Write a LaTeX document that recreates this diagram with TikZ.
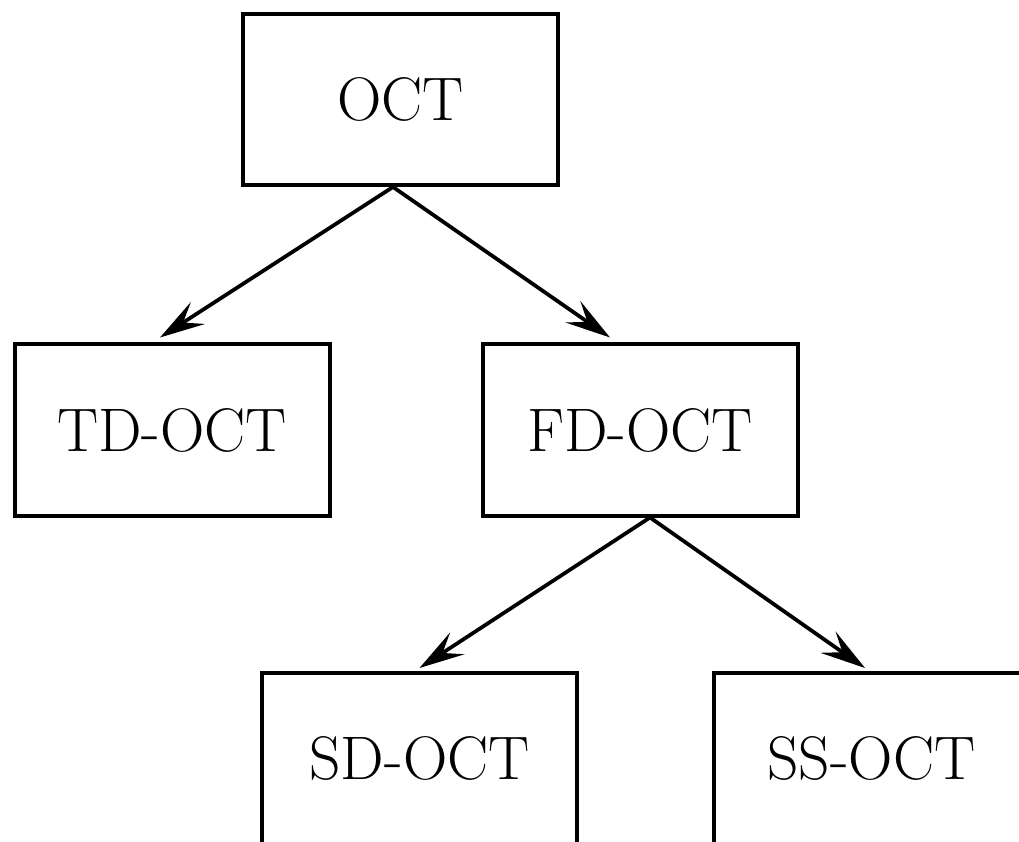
\documentclass[tikz,border=0pt]{standalone}
\usetikzlibrary{arrows.meta}
\begin{document}
\begin{tikzpicture}[
    box/.style={draw, line width=0.08cm, minimum width=6.3cm, minimum height=3.42cm,
      inner sep=0pt, font=\fontsize{35}{42}\selectfont},
    link/.style={line width=0.075cm, -{Stealth[length=0.9cm, width=0.52cm, inset=0.35cm]}}]
      \useasboundingbox (0,0) rectangle (20.38,16.82);
      \draw
        (8.01,14.83) node[box] (oct){OCT}
        (3.44,8.22) node[box] (td){TD-OCT}
        (12.8,8.22) node[box] (fd){FD-OCT}
        (8.39,1.65) node[box] (sd){SD-OCT}
        (17.43,1.65) node[box] (ss){SS-OCT};
      \begin{scope}[link]
        \draw ([xshift=-0.15cm]oct.south) to ([xshift=-0.24cm,yshift=0.1cm]td.north);
        \draw ([xshift=-0.15cm]oct.south) to ([xshift=-0.6cm,yshift=0.1cm]fd.north);
        \draw ([xshift=0.2cm]fd.south) to ([yshift=0.06cm]sd.north);
        \draw ([xshift=0.2cm]fd.south) to ([xshift=-0.13cm,yshift=0.06cm]ss.north);
      \end{scope}
    \end{tikzpicture}
\end{document}
